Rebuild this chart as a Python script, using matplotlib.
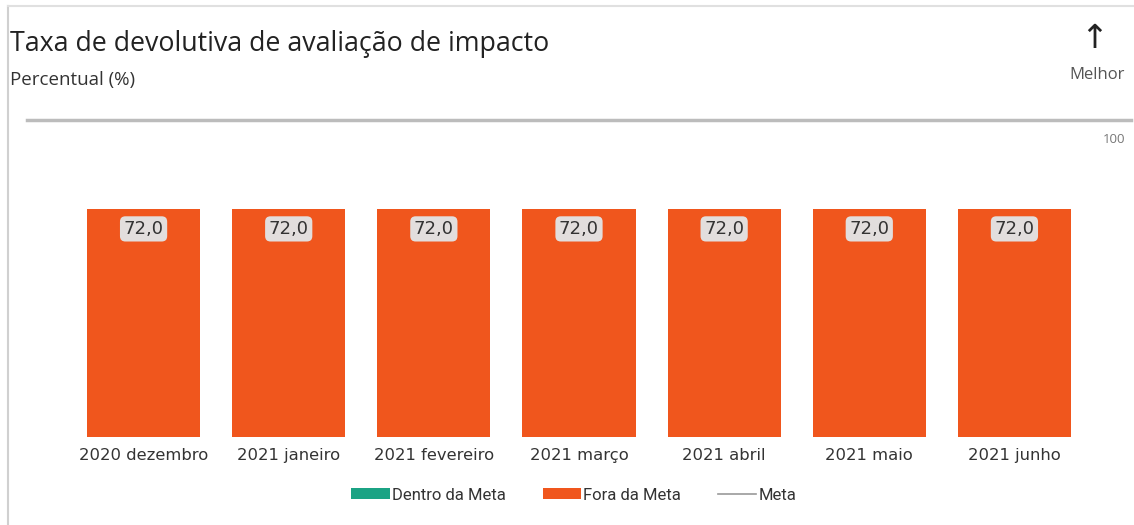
import matplotlib
matplotlib.use("Agg")
import matplotlib.pyplot as plt
from matplotlib.patches import Patch
from matplotlib.lines import Line2D

categories = ["2020 dezembro", "2021 janeiro", "2021 fevereiro", "2021 março",
              "2021 abril", "2021 maio", "2021 junho"]
values = [72.0, 72.0, 72.0, 72.0, 72.0, 72.0, 72.0]
value_labels = ["72,0"] * 7

W, H = 1134, 525
fig = plt.figure(figsize=(W / 100, H / 100), dpi=100)
fig.patch.set_facecolor("white")

def fx(x): return x / W
def fy(y): return 1 - y / H

ORANGE = "#F0561D"
TEAL = "#1BA384"

# frame lines
fig.add_artist(Line2D([fx(8), fx(8)], [fy(6), fy(525)], color="#d0d0d0", lw=1.5))
fig.add_artist(Line2D([fx(8), fx(1134)], [fy(6), fy(6)], color="#e0e0e0", lw=1.5))
# top axis line
fig.add_artist(Line2D([fx(27), fx(1131)], [fy(120), fy(120)], color="#bcbcbc", lw=2.5))

ax = fig.add_axes([fx(71), fy(437), fx(1087 - 71), (437 - 120) / H])
x = range(len(categories))
ax.bar(x, values, width=0.78, color=ORANGE)
ax.set_xlim(-0.5, len(categories) - 0.5)
ax.set_ylim(0, 100)
for s in ax.spines.values():
    s.set_visible(False)
ax.set_yticks([])
ax.set_xticks(list(x))
ax.set_xticklabels(categories, fontsize=11.8, color="#333333", family="DejaVu Sans")
ax.tick_params(axis="x", length=0, pad=8)

for i, (v, lab) in enumerate(zip(values, value_labels)):
    ax.annotate(lab, (i, v), xytext=(0, -14.5), textcoords="offset points",
                ha="center", va="center", fontsize=13, color="#333333",
                family="DejaVu Sans",
                bbox=dict(boxstyle="round,pad=0.2,rounding_size=0.3",
                          fc="#e2dedd", ec="none"))

fig.text(fx(1125), fy(140), "100", ha="right", va="center", fontsize=9.5,
         color="#777777", family="Open Sans")

fig.text(fx(10), fy(44), "Taxa de devolutiva de avaliação de impacto", ha="left",
         va="center", fontsize=19.3, color="#222222", family="Open Sans")
fig.text(fx(10), fy(80), "Percentual (%)", ha="left", va="center", fontsize=13.5,
         color="#333333", family="Open Sans")

fig.text(fx(1094), fy(38), "↑", ha="center", va="center", fontsize=24,
         color="#222222", family="DejaVu Sans")
fig.text(fx(1097), fy(75), "Melhor", ha="center", va="center", fontsize=12,
         color="#555555", family="Open Sans")

handles = [Patch(facecolor=TEAL, edgecolor="none", label="Dentro da Meta"),
           Patch(facecolor=ORANGE, edgecolor="none", label="Fora da Meta"),
           Line2D([0], [0], color="#999999", lw=1.2, label="Meta")]
leg = fig.legend(handles=handles, loc="center", bbox_to_anchor=(fx(574), fy(495)),
                 ncol=3, frameon=False, handlelength=2.3, handleheight=0.6,
                 handletextpad=0.15, columnspacing=2.2,
                 prop=dict(family="Roboto", size=12))
for t in leg.get_texts():
    t.set_color("#333333")

fig.savefig("out.png", dpi=100)
